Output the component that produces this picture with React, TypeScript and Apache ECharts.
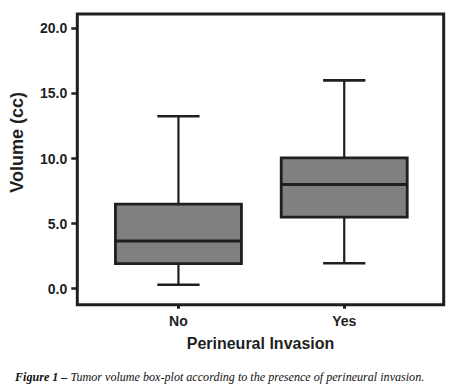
import React, { useEffect, useRef } from "react";
import * as echarts from "echarts";

const categories = ["No", "Yes"];
// [min, Q1, median, Q3, max]
const boxStats = [
  [0.3, 1.93, 3.67, 6.5, 13.25],
  [1.95, 5.5, 8.0, 10.05, 16.0],
];
const yTicks = [0, 5, 10, 15, 20];
const yTitle = "Volume (cc)";
const xTitle = "Perineural Invasion";
const captionBold = "Figure 1 – ";
const captionText = "Tumor volume box-plot according to the presence of perineural invasion.";

const INK = "#1f1f1f";
const FILL = "#808083";

export default function App() {
  const ref = useRef<HTMLDivElement>(null);
  useEffect(() => {
    if (!ref.current) return;
    const chart = echarts.init(ref.current, null, { renderer: "svg" });
    const data = boxStats.map((s, i) => [i, ...s]);
    chart.setOption({
      animation: false,
      backgroundColor: "#ffffff",
      grid: {
        left: 77.3,
        right: 6.3,
        top: 14,
        bottom: 84.3,
        show: true,
        borderColor: INK,
        borderWidth: 3,
        backgroundColor: "transparent",
      },
      xAxis: {
        type: "value",
        min: -0.61,
        max: 1.6,
        splitLine: { show: false },
        axisLine: { show: false, onZero: false },
        axisTick: {
          show: true,
          length: 4,
          lineStyle: { color: INK, width: 3 },
          customValues: categories.map((_, i) => i),
        },
        axisLabel: {
          margin: 9,
          customValues: categories.map((_, i) => i),
          formatter: (v: number) => categories[Math.round(v)] ?? "",
          color: INK,
          fontFamily: "Liberation Sans, Arial, sans-serif",
          fontWeight: "bold",
          fontSize: 14,
        },
        name: xTitle,
        nameLocation: "middle",
        nameGap: 31,
        nameTextStyle: {
          color: INK,
          fontFamily: "Liberation Sans, Arial, sans-serif",
          fontWeight: "bold",
          fontSize: 16,
        },
      },
      yAxis: {
        type: "value",
        min: -1.23,
        max: 21.1,
        splitLine: { show: false },
        axisLine: { show: false, onZero: false },
        axisTick: {
          show: true,
          length: 6,
          lineStyle: { color: INK, width: 2.5 },
          customValues: yTicks,
        },
        axisLabel: {
          margin: 10,
          customValues: yTicks,
          formatter: (v: number) => v.toFixed(1),
          color: INK,
          fontFamily: "Liberation Sans, Arial, sans-serif",
          fontWeight: "bold",
          fontSize: 14,
        },
        name: yTitle,
        nameLocation: "middle",
        nameGap: 51,
        nameRotate: 90,
        nameTextStyle: {
          color: INK,
          fontFamily: "Liberation Sans, Arial, sans-serif",
          fontWeight: "bold",
          fontSize: 18,
          padding: [0, 0, 0, 34],
        },
      },
      series: [
        {
          type: "custom",
          data,
          encode: { x: 0, y: [1, 2, 3, 4, 5] },
          renderItem: (params: any, api: any) => {
            const x = api.value(0);
            const mn = api.coord([x, api.value(1)]);
            const q1 = api.coord([x, api.value(2)]);
            const md = api.coord([x, api.value(3)]);
            const q3 = api.coord([x, api.value(4)]);
            const mx = api.coord([x, api.value(5)]);
            const bw = api.size([0.76, 0])[0];
            const cw = api.size([0.255, 0])[0];
            const cx = mn[0];
            const lineStyle = { stroke: INK, lineWidth: 2.2 };
            return {
              type: "group",
              children: [
                { type: "line", shape: { x1: cx, y1: q3[1], x2: cx, y2: mx[1] }, style: lineStyle },
                { type: "line", shape: { x1: cx, y1: q1[1], x2: cx, y2: mn[1] }, style: lineStyle },
                { type: "line", shape: { x1: cx - cw / 2, y1: mx[1], x2: cx + cw / 2, y2: mx[1] }, style: { stroke: INK, lineWidth: 2.6 } },
                { type: "line", shape: { x1: cx - cw / 2, y1: mn[1], x2: cx + cw / 2, y2: mn[1] }, style: { stroke: INK, lineWidth: 2.6 } },
                {
                  type: "rect",
                  shape: { x: cx - bw / 2, y: q3[1], width: bw, height: q1[1] - q3[1] },
                  style: { fill: FILL, stroke: INK, lineWidth: 2.8 },
                },
                { type: "line", shape: { x1: cx - bw / 2, y1: md[1], x2: cx + bw / 2, y2: md[1] }, style: { stroke: INK, lineWidth: 3 } },
              ],
            };
          },
        },
      ],
      graphic: [
        {
          type: "text",
          left: 15,
          top: 371,
          style: {
            text: "{b|" + captionBold + "}{i|" + captionText + "}",
            rich: {
              b: {
                fontFamily: "Liberation Serif, Times New Roman, serif",
                fontStyle: "italic",
                fontWeight: "bold",
                fontSize: 12.1,
                fill: "#111",
              },
              i: {
                fontFamily: "Liberation Serif, Times New Roman, serif",
                fontStyle: "italic",
                fontSize: 12.1,
                fill: "#111",
              },
            },
          },
        },
      ],
    });
    return () => chart.dispose();
  }, []);
  return <div ref={ref} style={{ width: 450, height: 389, position: "absolute", left: 0, top: 0 }} />;
}
